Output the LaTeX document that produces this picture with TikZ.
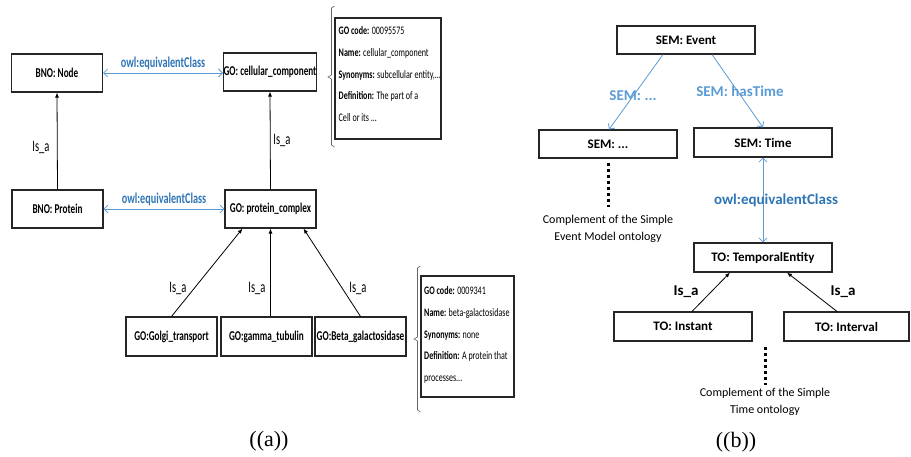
\documentclass[tikz,border=0pt]{standalone}
\usepackage{fontspec}
\setmainfont{Carlito}
\newfontfamily\condf[FakeStretch=0.68]{Carlito}
\newfontfamily\infof[FakeStretch=0.7]{Carlito}
\newfontfamily\isaf[FakeStretch=0.66]{Carlito}
\newfontfamily\capf{Liberation Serif}
\usetikzlibrary{arrows.meta}
\definecolor{lblue}{HTML}{5B9BD5}
\definecolor{dblue}{HTML}{2E75B6}
\begin{document}
\begin{tikzpicture}[x=1pt,y=-1pt,
  abox/.style={draw=black!85, line width=1.1pt, minimum width=91pt, minimum height=38pt, inner sep=0pt, font=\condf\bfseries\fontsize{13.5}{15}\selectfont},
  bbox/.style={draw=black!85, line width=1.1pt, minimum width=138pt, minimum height=29pt, inner sep=0pt, font=\bfseries\fontsize{13}{15}\selectfont},
  infobox/.style={draw=black!85, line width=1.1pt, inner sep=0pt},
  infotext/.style={anchor=north west, align=left, inner sep=0pt, font=\infof\fontsize{11.5}{21.7}\selectfont},
  isa/.style={-{Latex[length=5pt,width=4pt]}, line width=0.8pt, black},
  eqv/.style={{Straight Barb[length=4pt,width=8pt]}-{Straight Barb[length=4pt,width=8pt]}, line width=0.8pt, lblue},
  rel/.style={-{Straight Barb[length=4pt,width=8pt]}, line width=0.8pt, lblue},
  isalabA/.style={font=\isaf\fontsize{16}{18}\selectfont, inner sep=0pt},
  isalabB/.style={font=\bfseries\fontsize{15}{17}\selectfont, inner sep=0pt},
  eqlabA/.style={font=\condf\bfseries\fontsize{15}{17}\selectfont, text=dblue, inner sep=0pt},
  rellab/.style={font=\bfseries\fontsize{15}{17}\selectfont, text=lblue, inner sep=0pt},
  compl/.style={align=center, font=\fontsize{12}{17}\selectfont, inner sep=0pt},
  dotline/.style={line width=3pt, dash pattern=on 3pt off 3pt, black},
  brk/.style={line width=0.6pt, black!60},
  captxt/.style={font=\capf\fontsize{22}{24}\selectfont, inner sep=0pt}
]
\useasboundingbox (0,0) rectangle (911,456);
% ---------- (a) ----------
\node[abox] (bnoNode) at (57,73) {BNO: Node};
\node[abox, minimum width=92pt] (goCC) at (270,72) {GO: cellular\_component};
\node[abox] (bnoProt) at (57.5,209) {BNO: Protein};
\node[abox] (goPC) at (270.5,209) {GO: protein\_complex};
\node[abox, minimum height=39pt] (golgi) at (171.5,336.5) {GO:Golgi\_transport};
\node[abox, minimum height=39pt] (gamma) at (266.5,336.5) {GO:gamma\_tubulin};
\node[abox, minimum height=39pt] (beta) at (360.5,336.5) {GO:Beta\_galactosidase};

\draw[eqv] (bnoNode.east) -- (goCC.west |- bnoNode.east) node[midway, above=3pt, eqlabA] {owl:equivalentClass};
\draw[eqv] (bnoProt.east) -- (goPC.west |- bnoProt.east) node[midway, above=3pt, eqlabA] {owl:equivalentClass};
\draw[isa] (bnoProt.north) -- (bnoNode.south);
\draw[isa] (goPC.north) -- (goCC.south |- goCC.south);
\draw[isa] (golgi.north) -- ([xshift=-28pt]goPC.south);
\draw[isa] (gamma.north -| goPC.south) -- (goPC.south);
\draw[isa] (beta.north) -- ([xshift=33pt]goPC.south);

\node[isalabA] (l1) at (41,147) {Is\_a};
\node[isalabA] (l2) at (282,140) {Is\_a};
\node[isalabA] (l3) at (178,288) {Is\_a};
\node[isalabA] (l4) at (257,288) {Is\_a};
\node[isalabA] (l5) at (358,288) {Is\_a};

% info box 1
\node[infobox, minimum width=106pt, minimum height=121pt] (info1) at (388,78.5) {};
\node[infotext] (info1t) at (338.5,26.5) {\textbf{GO code:} 00095575\\ \textbf{Name:} cellular\_component\\ \textbf{Synonyms:} subcellular entity,...\\ \textbf{Definition:} The part of a\\ Cell or its ...};
\draw[brk] (334.5,6) -- (331.5,8) -- (331.5,75) -- (328,77) -- (331.5,79) -- (331.5,145) -- (334.5,147);
% info box 2
\node[infobox, minimum width=93pt, minimum height=121pt] (info2) at (467.5,336.5) {};
\node[infotext] (info2t) at (424,286.5) {\textbf{GO code:} 0009341\\ \textbf{Name:} beta-galactosidase\\ \textbf{Synonyms:} none\\ \textbf{Definition:} A protein that\\ processes...};
\draw[brk] (420.5,266) -- (417.5,268) -- (417.5,337) -- (414,339) -- (417.5,341) -- (417.5,410) -- (420.5,412);

\node[captxt] (capa) at (269,441) {((a))};

% ---------- (b) ----------
\node[bbox, minimum height=28pt] (semEvent) at (686,40) {SEM: Event};
\node[bbox, minimum height=28pt] (semDots) at (608,144) {SEM: ...};
\node[bbox] (semTime) at (763,142.5) {SEM: Time};
\node[bbox] (toTE) at (763,257.5) {TO: TemporalEntity};
\node[bbox] (toInst) at (683,326.5) {TO: Instant};
\node[bbox, minimum width=125pt] (toInt) at (846.5,326.5) {TO: Interval};

\draw[rel] ([xshift=-23pt]semEvent.south) -- ([xshift=1pt]semDots.north);
\draw[rel] ([xshift=26pt]semEvent.south) -- (semTime.north);
\node[rellab] (r1) at (633,96) {SEM: ...};
\node[rellab] (r2) at (740,91) {SEM: hasTime};

\draw[eqv] (semTime.south) -- (toTE.north);
\node[font=\bfseries\fontsize{15}{17}\selectfont, text=dblue, inner sep=0pt] (eqb) at (776,200) {owl:equivalentClass};

\draw[isa] ([xshift=9pt]toInst.north) -- ([xshift=-33pt]toTE.south);
\draw[isa] ([xshift=-9.5pt]toInt.north) -- ([xshift=24pt]toTE.south);
\node[isalabB] (l6) at (686,292) {Is\_a};
\node[isalabB] (l7) at (843,292) {Is\_a};

\coordinate (d1) at (608,207);
\draw[dotline] ([yshift=-4pt]semDots.south) -- (d1);
\node[compl] (c1) at (608,228.5) {Complement of the Simple\\ Event Model ontology};
\coordinate (d2a) at (765,347);
\coordinate (d2b) at (765,385);
\draw[dotline] (d2a) -- (d2b);
\node[compl] (c2) at (765,401.5) {Complement of the Simple\\ Time ontology};

\node[captxt] (capb) at (736,442) {((b))};
\end{tikzpicture}
\end{document}
